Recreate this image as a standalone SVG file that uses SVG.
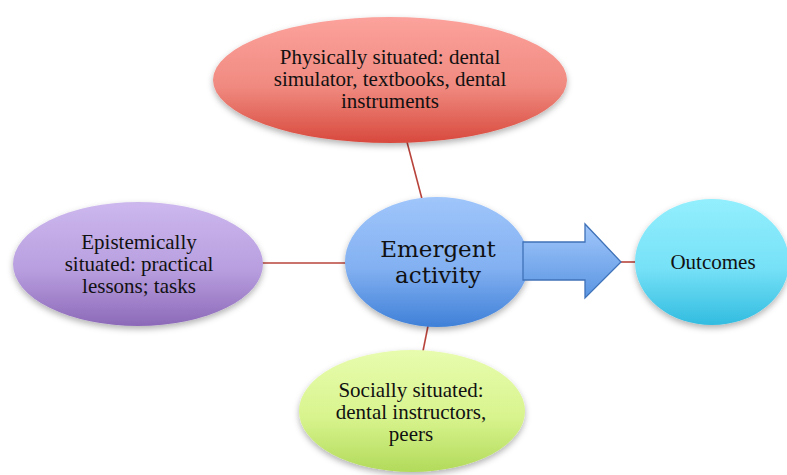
<svg xmlns="http://www.w3.org/2000/svg" width="787" height="475" viewBox="0 0 787 475">
  <defs>
    <linearGradient id="gRed" x1="0" y1="0" x2="0" y2="1">
      <stop offset="0" stop-color="#fca29c"/>
      <stop offset="0.55" stop-color="#f08a80"/>
      <stop offset="1" stop-color="#d8493d"/>
    </linearGradient>
    <linearGradient id="gPurple" x1="0" y1="0" x2="0" y2="1">
      <stop offset="0" stop-color="#cdb8ee"/>
      <stop offset="0.55" stop-color="#b89edf"/>
      <stop offset="1" stop-color="#8c69b8"/>
    </linearGradient>
    <linearGradient id="gBlue" x1="0" y1="0" x2="0" y2="1">
      <stop offset="0" stop-color="#a0c6fb"/>
      <stop offset="0.55" stop-color="#82b0f1"/>
      <stop offset="1" stop-color="#3f80d8"/>
    </linearGradient>
    <linearGradient id="gGreen" x1="0" y1="0" x2="0" y2="1">
      <stop offset="0" stop-color="#e8fcae"/>
      <stop offset="0.55" stop-color="#d8f48e"/>
      <stop offset="1" stop-color="#b2da5a"/>
    </linearGradient>
    <linearGradient id="gCyan" x1="0" y1="0" x2="0" y2="1">
      <stop offset="0" stop-color="#93effd"/>
      <stop offset="0.55" stop-color="#76e1f7"/>
      <stop offset="1" stop-color="#32bce0"/>
    </linearGradient>
    <linearGradient id="gArrow" x1="0" y1="0" x2="0" y2="1">
      <stop offset="0" stop-color="#a2c7fb"/>
      <stop offset="1" stop-color="#5a95e2"/>
    </linearGradient>
    <filter id="shadow" x="-10%" y="-10%" width="120%" height="130%">
      <feDropShadow dx="0" dy="3" stdDeviation="3" flood-color="#000" flood-opacity="0.3"/>
    </filter>
  </defs>
  <style>
    .label { font-family: "Liberation Serif", "Times New Roman", serif; font-size: 21px; fill: #111; text-anchor: middle; }
    .center { font-family: "DejaVu Serif", "Liberation Serif", serif; font-size: 23px; fill: #111; text-anchor: middle; }
    .link { stroke: #b8433b; stroke-width: 1.6; fill: none; }
  </style>
  <rect width="787" height="475" fill="#ffffff"/>

  <g id="connectors">
    <line class="link" x1="407" y1="142" x2="422" y2="199"/>
    <line class="link" x1="262" y1="263" x2="347" y2="263"/>
    <line class="link" x1="428" y1="326" x2="423" y2="351"/>
    <line class="link" x1="619" y1="262" x2="637" y2="262"/>
  </g>

  <g id="physical">
    <ellipse cx="390" cy="80" rx="177" ry="63" fill="url(#gRed)" filter="url(#shadow)"/>
    <text class="label" x="390" y="64">Physically situated: dental</text>
    <text class="label" x="390" y="86">simulator, textbooks, dental</text>
    <text class="label" x="390" y="108">instruments</text>
  </g>

  <g id="epistemic">
    <ellipse cx="138" cy="264" rx="125" ry="62" fill="url(#gPurple)" filter="url(#shadow)"/>
    <text class="label" x="139" y="249">Epistemically</text>
    <text class="label" x="139" y="271">situated: practical</text>
    <text class="label" x="139" y="293">lessons; tasks</text>
  </g>

  <g id="social">
    <ellipse cx="412" cy="411" rx="113" ry="61" fill="url(#gGreen)" filter="url(#shadow)"/>
    <text class="label" x="411" y="397">Socially situated:</text>
    <text class="label" x="411" y="419">dental instructors,</text>
    <text class="label" x="411" y="441">peers</text>
  </g>

  <g id="emergent">
    <ellipse cx="437" cy="262" rx="92" ry="65" fill="url(#gBlue)" filter="url(#shadow)"/>
    <text class="center" x="438" y="257">Emergent</text>
    <text class="center" x="438" y="283">activity</text>
  </g>

  <g id="flow-arrow">
    <path d="M523 242 H585 V224 L621 262 L585 298 V280 H523 Z" fill="url(#gArrow)" stroke="#3f72b8" stroke-width="1.3" stroke-linejoin="miter"/>
  </g>

  <g id="outcomes">
    <ellipse cx="712" cy="262" rx="77" ry="63" fill="url(#gCyan)" filter="url(#shadow)"/>
    <text class="label" x="713" y="269">Outcomes</text>
  </g>
</svg>
